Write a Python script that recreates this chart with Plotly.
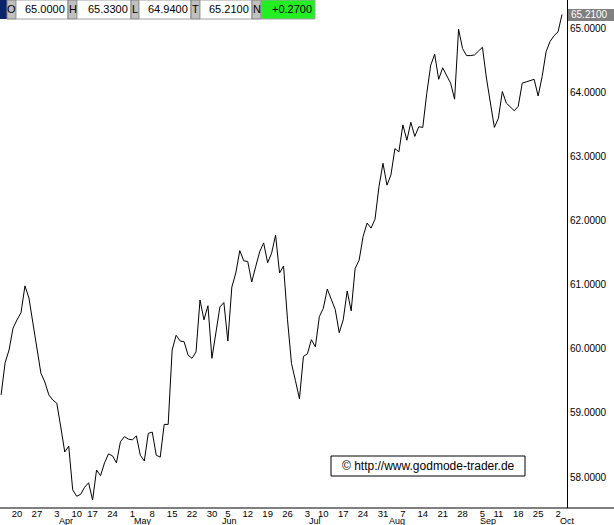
import pandas as pd
import plotly.graph_objects as go

# ---------------- data ----------------
start_date = "2006-03-14"
end_date = "2006-10-03"
holidays = ["2006-04-14", "2006-05-29", "2006-07-04", "2006-09-04"]

close = [
    59.28, 59.78, 59.98, 60.32, 60.45, 60.56, 60.98, 60.79, 60.40, 59.98,
    59.62, 59.48, 59.28, 59.20, 59.15, 58.78, 58.39, 58.48, 57.80, 57.70,
    57.73, 57.84, 57.91, 57.64, 58.11, 58.02, 58.22, 58.36, 58.33, 58.22,
    58.55, 58.63, 58.59, 58.58, 58.64, 58.34, 58.25, 58.68, 58.70, 58.34,
    58.31, 58.82, 58.82, 59.98, 60.21, 60.12, 60.11, 59.90, 59.85, 59.95,
    60.76, 60.45, 60.67, 59.85, 60.29, 60.65, 60.72, 60.12, 60.96, 61.18,
    61.53, 61.37, 61.36, 61.04, 61.28, 61.51, 61.65, 61.34, 61.49, 61.77,
    61.18, 61.29, 60.45, 59.77, 59.50, 59.22, 59.88, 59.92, 60.14, 60.03,
    60.50, 60.63, 60.93, 60.76, 60.61, 60.25, 60.45, 60.90, 60.59, 61.25,
    61.38, 61.75, 61.96, 61.88, 62.02, 62.53, 62.89, 62.55, 62.71, 63.12,
    63.07, 63.49, 63.25, 63.53, 63.31, 63.46, 63.45, 63.98, 64.42, 64.59,
    64.20, 64.38, 64.27, 64.14, 63.89, 64.98, 64.68, 64.57, 64.57, 64.58,
    64.64, 64.70, 64.22, 63.83, 63.45, 63.59, 64.01, 63.83, 63.77, 63.71,
    63.78, 64.14, 64.16, 64.18, 64.20, 63.94, 64.24, 64.63, 64.79, 64.88,
    64.94, 65.21,
]

y_ticks = [58, 59, 60, 61, 62, 63, 64, 65]
header_labels = ["O", "H", "L", "T", "N"]
header_values = ["65.0000", "65.3300", "64.9400", "65.2100", "+0.2700"]
last_price = 65.21
watermark = "\u00a9 http://www.godmode-trader.de"
month_names = {4: "Apr", 5: "May", 6: "Jun", 7: "Jul", 8: "Aug", 9: "Sep", 10: "Oct"}

# ---------------- trading calendar ----------------
dates = [d for d in pd.bdate_range(start_date, end_date) if d.strftime("%Y-%m-%d") not in holidays]
idx = list(range(len(dates)))

tickvals, ticktext = [], []
month_pos = []
for i, d in enumerate(dates):
    if i == 0:
        continue
    prev = dates[i - 1]
    if d.isocalendar()[1] != prev.isocalendar()[1]:
        tickvals.append(i)
        ticktext.append(str(d.day))
    if d.month != prev.month:
        month_pos.append((i, month_names[d.month]))

# ---------------- geometry helpers (pixel -> paper) ----------------
W, H = 614, 525
PL, PR, PT, PB = 0, 567, 0, 508  # plot area in pixels
def px(x):
    return (x - PL) / (PR - PL)
def py(y):
    return (PB - y) / (PB - PT)

FONT = "Liberation Sans, Arial, sans-serif"

fig = go.Figure()
fig.add_trace(go.Scatter(x=idx, y=close, mode="lines",
                         line=dict(color="black", width=1), hoverinfo="skip"))

shapes = []
annotations = []

# bottom axis line spanning whole width
shapes.append(dict(type="line", xref="paper", yref="paper", x0=0, x1=px(W), y0=0, y1=0,
                   line=dict(color="black", width=1)))

# header bar
shapes.append(dict(type="rect", xref="paper", yref="paper", x0=px(0), x1=px(7), y0=py(19), y1=py(0),
                   fillcolor="#0a246a", line=dict(width=0)))
seg = [(7, 16, 68), (68, 77, 131), (131, 139, 191), (191, 200, 252), (252, 261, 315)]
for k, (a, b, c) in enumerate(seg):
    shapes.append(dict(type="rect", xref="paper", yref="paper", x0=px(a), x1=px(b), y0=py(19), y1=py(0),
                       fillcolor="#c0c0c0", line=dict(color="#808080", width=1)))
    fill = "#22ee22" if k == len(seg) - 1 else "white"
    shapes.append(dict(type="rect", xref="paper", yref="paper", x0=px(b), x1=px(c), y0=py(19), y1=py(0),
                       fillcolor=fill, line=dict(color="#a0a0a0", width=1)))
    annotations.append(dict(text=header_labels[k], xref="paper", yref="paper", x=px((a + b) / 2), y=py(9.5),
                            xanchor="center", yanchor="middle", showarrow=False,
                            font=dict(family=FONT, size=11, color="black")))
    annotations.append(dict(text=header_values[k], xref="paper", yref="paper", x=px(c - 1), y=py(9.5),
                            xanchor="right", yanchor="middle", showarrow=False,
                            font=dict(family=FONT, size=11, color="black")))

# last price tag on right axis
shapes.append(dict(type="rect", xref="paper", yref="paper", x0=px(568), x1=px(W), y0=py(21), y1=py(9),
                   fillcolor="#808080", line=dict(width=0)))
annotations.append(dict(text=f"{last_price:.4f}", xref="paper", yref="y", x=px(569), y=last_price,
                        xanchor="left", yanchor="middle", showarrow=False,
                        font=dict(family=FONT, size=10, color="white")))

# watermark
shapes.append(dict(type="rect", xref="paper", yref="paper", x0=px(331), x1=px(525), y0=py(476), y1=py(456),
                   fillcolor="white", line=dict(color="black", width=1)))
annotations.append(dict(text=watermark, xref="paper", yref="paper", x=px(428), y=py(466),
                        xanchor="center", yanchor="middle", showarrow=False,
                        font=dict(family=FONT, size=12, color="black")))

# month labels
for i, name in month_pos:
    annotations.append(dict(text=name, xref="x", yref="paper", x=i, y=0, xanchor="left", yanchor="top",
                            xshift=1, yshift=-7, showarrow=False, borderpad=0,
                            font=dict(family=FONT, size=9, color="black")))

x0_idx = (0 - 1.1) / 3.978
x1_idx = (567 - 1.1) / 3.978
y_lo = 58 - (508 - 477) / 64.14
y_hi = 65 + 28 / 64.14

fig.update_layout(
    width=W, height=H,
    margin=dict(l=PL, r=W - PR, t=PT, b=H - PB, pad=0),
    paper_bgcolor="white", plot_bgcolor="white",
    showlegend=False,
    font=dict(family=FONT, size=10, color="black"),
    xaxis=dict(range=[x0_idx, x1_idx], tickvals=tickvals, ticktext=ticktext, ticks="",
               ticklabelstandoff=-2,
               showgrid=False, zeroline=False, showline=False, automargin=False,
               tickfont=dict(family=FONT, size=9.5, color="black"), fixedrange=True),
    yaxis=dict(range=[y_lo, y_hi], side="right", tickvals=y_ticks, tickformat=".4f", ticks="",
               showgrid=False, zeroline=False, showline=True, linecolor="black", linewidth=1,
               automargin=False, tickfont=dict(family=FONT, size=10, color="black"), fixedrange=True),
    shapes=shapes, annotations=annotations,
)

fig.write_html("out.html", config={"displayModeBar": False},
               post_script="document.body.style.margin='0';document.body.style.overflow='hidden';")
